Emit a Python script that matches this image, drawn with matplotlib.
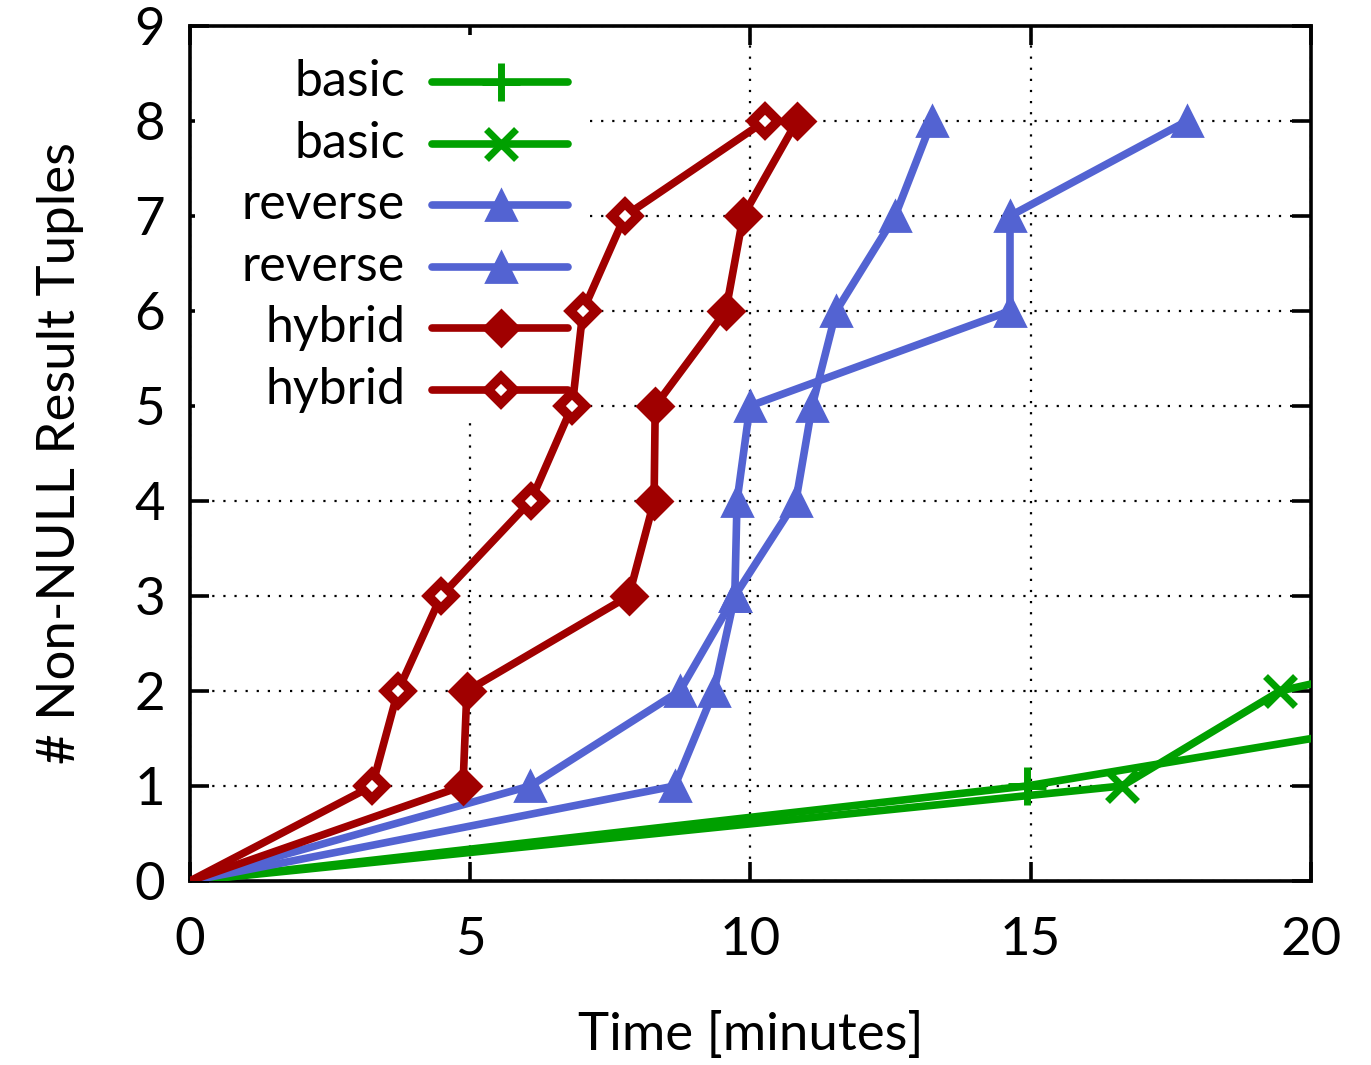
import matplotlib.pyplot as plt
from matplotlib.patches import Rectangle

plt.rcParams['font.family'] = ['Lato', 'DejaVu Sans']

# values (minutes, tuples)
basic_plus_t = [0, 14.93, 25.1]
basic_plus_n = [0, 1, 2]
basic_x_t = [0, 16.63, 19.45, 27.0]
basic_x_n = [0, 1, 2, 3]
reverse_a_t = [0, 8.65, 9.35, 9.72, 9.76, 9.99, 14.63, 14.63, 17.79]
reverse_a_n = [0, 1, 2, 3, 4, 5, 6, 7, 8]
reverse_b_t = [0, 6.07, 8.74, 9.72, 10.81, 11.10, 11.53, 12.58, 13.24]
reverse_b_n = [0, 1, 2, 3, 4, 5, 6, 7, 8]
hybrid_fill_t = [0, 4.87, 4.94, 7.83, 8.28, 8.30, 9.56, 9.87, 10.83]
hybrid_fill_n = [0, 1, 2, 3, 4, 5, 6, 7, 8]
hybrid_open_t = [0, 3.25, 3.71, 4.48, 6.08, 6.82, 7.01, 7.76, 10.26]
hybrid_open_n = [0, 1, 2, 3, 4, 5, 6, 7, 8]

x_ticks = [0, 5, 10, 15, 20]
y_ticks = list(range(10))

green = '#00a000'
blue = '#5363d2'
red = '#a00000'

fig = plt.figure(figsize=(13.71, 10.65), dpi=100)
ax = fig.add_axes([0.1386, 0.1728, 0.8176, 0.8028])

lw = 5.5
series = [
    ('basic', basic_plus_t, basic_plus_n, dict(color=green, marker='+', ms=28, mew=5)),
    ('basic', basic_x_t, basic_x_n, dict(color=green, marker='x', ms=21, mew=5)),
    ('reverse', reverse_a_t, reverse_a_n, dict(color=blue, marker='^', ms=21, mew=2)),
    ('reverse', reverse_b_t, reverse_b_n, dict(color=blue, marker='^', ms=21, mew=2)),
    ('hybrid', hybrid_fill_t, hybrid_fill_n, dict(color=red, marker='D', ms=18, mew=2)),
    ('hybrid', hybrid_open_t, hybrid_open_n, dict(color=red, marker='D', ms=13, mew=7, mfc='white')),
]

for label, t, n, style in series:
    ax.plot(t, n, lw=lw, solid_capstyle='round', zorder=3,
            markevery=list(range(1, len(t))), **style)

ax.set_xlim(0, 20)
ax.set_ylim(0, 9)
ax.set_xticks(x_ticks)
ax.set_yticks(y_ticks)
ax.grid(True, color='black', linestyle=(0, (1, 4)), linewidth=1.6, zorder=0)
ax.set_axisbelow(True)

for s in ax.spines.values():
    s.set_linewidth(2.6)
ax.tick_params(direction='in', length=14, width=2.6, top=True, right=True,
               labelsize=38)
ax.tick_params(axis='x', pad=26)
ax.tick_params(axis='y', pad=18)
ax.set_xlabel('Time [minutes]', fontsize=38, labelpad=34)
ax.set_ylabel('# Non-NULL Result Tuples', fontsize=38, labelpad=36)

# key box (white, covers grid) with right-aligned labels and samples
ax.add_patch(Rectangle((0.004, 0.54), 0.35, 0.45, transform=ax.transAxes,
                       facecolor='white', edgecolor='none', zorder=1))
y0, dy = 0.9345, 0.072
for i, (label, t, n, style) in enumerate(series):
    yy = y0 - i * dy
    ax.text(0.1918, yy, label, transform=ax.transAxes, ha='right', va='center',
            fontsize=36, zorder=4)
    ax.plot([0.216, 0.337], [yy, yy], transform=ax.transAxes, color=style['color'],
            lw=lw, solid_capstyle='round', clip_on=False, zorder=4)
    mk = {k: v for k, v in style.items() if k != 'color'}
    ax.plot([0.277], [yy], transform=ax.transAxes, color=style['color'],
            lw=0, clip_on=False, zorder=5, **mk)

fig.savefig('out.png', dpi=100, facecolor='white')
